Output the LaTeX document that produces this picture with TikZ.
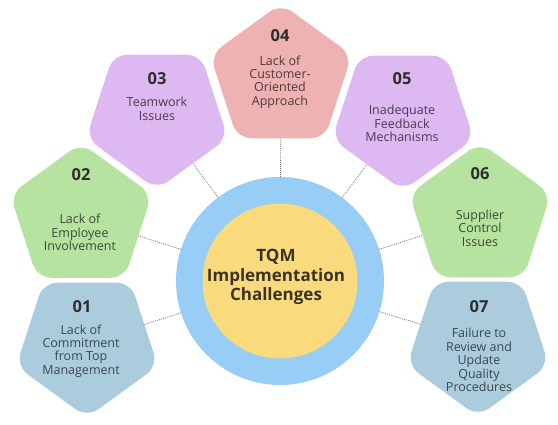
\documentclass[tikz,border=0pt]{standalone}
\usepackage{fontspec}
\setmainfont{Open Sans}
\usetikzlibrary{shapes.geometric}
\definecolor{cblue}{HTML}{AACCDD}
\definecolor{cgreen}{HTML}{B6E4A0}
\definecolor{cpurple}{HTML}{DEB8F0}
\definecolor{cpink}{HTML}{EEB2B2}
\definecolor{ring}{HTML}{98CDF5}
\definecolor{core}{HTML}{F9DA7C}
\definecolor{numc}{HTML}{2E2E2E}
\definecolor{tblue}{HTML}{3A4850}
\definecolor{tgreen}{HTML}{3A4A35}
\definecolor{tpurple}{HTML}{4A3B55}
\definecolor{tpink}{HTML}{50393B}
\definecolor{tcore}{HTML}{3A3322}
\begin{document}
\begin{tikzpicture}[x=1pt,y=-1pt,
  pent/.style={regular polygon, regular polygon sides=5, minimum size=149pt,
    inner sep=0pt, outer sep=0pt, rounded corners=14pt, draw=none},
  pup/.style={pent},
  pdown/.style={pent, shape border rotate=180},
  num/.style={font=\fontsize{16.5}{18}\selectfont\bfseries, text=numc, inner sep=0pt},
  desc/.style={font=\fontsize{12.5}{13.4}\selectfont, align=center, inner sep=0pt},
  conn/.style={draw=black!55, dash pattern=on 1pt off 1pt, line width=0.7pt}]
\useasboundingbox (0,0) rectangle (558,424);
% central circles
\node[circle, fill=ring, minimum size=208pt, inner sep=0pt, outer sep=0pt] (ring) at (280,281) {};
\node[circle, fill=core, minimum size=155pt, inner sep=0pt, outer sep=0pt] (core) at (280,281) {};
\node[font=\fontsize{17}{19.5}\selectfont\bfseries, text=tcore, align=center, inner sep=0pt] (ctext) at (276,277)
  {TQM\\Implementation\\Challenges};
% pentagons
\node[pdown, fill=cblue]   (p1) at (87,343) {};
\node[pup,   fill=cgreen]  (p2) at (81,217.5) {};
\node[pdown, fill=cpurple] (p3) at (157,115) {};
\node[pup,   fill=cpink]   (p4) at (281,78) {};
\node[pdown, fill=cpurple] (p5) at (403,116) {};
\node[pup,   fill=cgreen]  (p6) at (480,217) {};
\node[pdown, fill=cblue]   (p7) at (478,342) {};
% connectors
\foreach \p in {p1,p2,p3,p4,p5,p6,p7}{\draw[conn] (ring) -- (\p);}
% texts
\node[num] (n1) at (82,307) {01};
\node[desc, text=tblue] (d1) at (81,351) {Lack of\\Commitment\\from Top\\Management};
\node[num] (n2) at (81,175) {02};
\node[desc, text=tgreen] (d2) at (80,232.5) {Lack of\\Employee\\Involvement};
\node[num] (n3) at (157,79) {03};
\node[desc, text=tpurple] (d3) at (157,109) {Teamwork\\Issues};
\node[num] (n4) at (280,36) {04};
\node[desc, text=tpink] (d4) at (280,82) {Lack of\\Customer-\\Oriented\\Approach};
\node[num] (n5) at (402,79) {05};
\node[desc, text=tpurple] (d5) at (402,123.5) {Inadequate\\Feedback\\Mechanisms};
\node[num] (n6) at (480,174) {06};
\node[desc, text=tgreen] (d6) at (480,228) {Supplier\\Control\\Issues};
\node[num] (n7) at (479,307) {07};
\node[desc, text=tblue] (d7) at (479,360) {Failure to\\Review and\\Update\\Quality\\Procedures};
\end{tikzpicture}
\end{document}
